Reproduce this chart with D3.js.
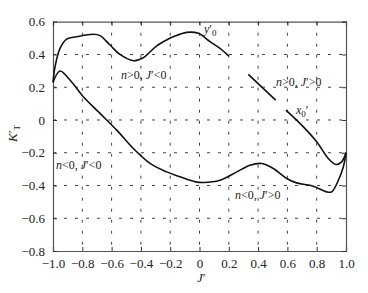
<!DOCTYPE html>
<html>
<head>
<meta charset="utf-8">
<script src="https://cdn.jsdelivr.net/npm/d3@7"></script>
<style>
  body { margin: 0; background: #fff; }
  svg text { font-family: "Liberation Serif", "Times New Roman", "DejaVu Serif", serif; fill: #222; }
</style>
</head>
<body>
<div id="chart"></div>
<script>
// tick values
var xTicks = [-1.0, -0.8, -0.6, -0.4, -0.2, 0, 0.2, 0.4, 0.6, 0.8, 1.0];
var yTicks = [-0.8, -0.6, -0.4, -0.2, 0, 0.2, 0.4, 0.6];

// n>0, J'<0 branch (upper curve)
var upperJ = [-1.0, -0.985, -0.952, -0.907, -0.838, -0.725, -0.679, -0.611, -0.543, -0.452, -0.384, -0.292, -0.213, -0.179, -0.087, -0.008, 0.072, 0.140, 0.2];
var upperK = [0.23, 0.33, 0.437, 0.494, 0.508, 0.523, 0.515, 0.458, 0.40, 0.362, 0.38, 0.453, 0.494, 0.508, 0.535, 0.529, 0.478, 0.437, 0.39];

// n>0, J'>0 segment
var midJ = [0.333, 0.52];
var midK = [0.278, 0.121];

// x0' branch
var rightJ = [0.59, 0.709, 0.80, 0.879, 0.932, 0.970, 1.0];
var rightK = [0.06, -0.042, -0.133, -0.235, -0.272, -0.256, -0.20];

// n<0 branch (lower curve)
var lowerJ = [-1.0, -0.952, -0.884, -0.793, -0.679, -0.565, -0.452, -0.338, -0.224, -0.133, -0.026, 0.026, 0.140, 0.254, 0.345, 0.425, 0.504, 0.595, 0.663, 0.777, 0.868, 0.902, 0.948, 0.982, 1.0];
var lowerK = [0.23, 0.299, 0.244, 0.142, 0.04, -0.062, -0.174, -0.265, -0.317, -0.347, -0.378, -0.382, -0.368, -0.317, -0.276, -0.266, -0.296, -0.357, -0.384, -0.404, -0.439, -0.439, -0.368, -0.286, -0.20];

var W = 368, H = 293;
var pLeft = 53, pRight = 346, pTop = 21.7, pBottom = 251;

var svg = d3.select('#chart').append('svg')
  .attr('width', W)
  .attr('height', H);

var x = d3.scaleLinear().domain([-1, 1]).range([pLeft, pRight]);
var y = d3.scaleLinear().domain([-0.8, 0.6]).range([pBottom, pTop]);

// grid
svg.append('g').selectAll('line')
  .data(yTicks.slice(1, -1))
  .enter().append('line')
  .attr('x1', pLeft).attr('x2', pRight)
  .attr('y1', function(d) { return y(d); })
  .attr('y2', function(d) { return y(d); })
  .attr('stroke', '#444')
  .attr('stroke-width', 1)
  .attr('stroke-dasharray', '3,8');

svg.append('g').selectAll('line')
  .data(xTicks.slice(1, -1))
  .enter().append('line')
  .attr('y1', pTop).attr('y2', pBottom)
  .attr('x1', function(d) { return x(d); })
  .attr('x2', function(d) { return x(d); })
  .attr('stroke', '#444')
  .attr('stroke-width', 1)
  .attr('stroke-dasharray', '3,8');

// axes, ticks inside
var fmt = function(d) { return d === 0 ? '0' : d3.format('.1f')(d).replace('-', '\u2212'); };

svg.append('g')
  .attr('transform', 'translate(0,' + pBottom + ')')
  .call(d3.axisBottom(x).tickValues(xTicks).tickSize(-4).tickPadding(8).tickFormat(fmt));
svg.append('g')
  .attr('transform', 'translate(' + pLeft + ',0)')
  .call(d3.axisLeft(y).tickValues(yTicks).tickSize(-4).tickPadding(8).tickFormat(fmt));
svg.append('g')
  .attr('transform', 'translate(0,' + pTop + ')')
  .call(d3.axisTop(x).tickValues(xTicks).tickSize(-4).tickFormat(''));
svg.append('g')
  .attr('transform', 'translate(' + pRight + ',0)')
  .call(d3.axisRight(y).tickValues(yTicks).tickSize(-4).tickFormat(''));

svg.selectAll('.domain').attr('stroke', '#555').attr('stroke-width', 1.2);
svg.selectAll('.tick line').attr('stroke', '#333');
svg.selectAll('.tick text').style('font-size', '13px').style('fill', '#222')
  .style('font-family', '"Liberation Serif", "Times New Roman", serif');

// curves
var line = d3.line()
  .x(function(d) { return x(d[0]); })
  .y(function(d) { return y(d[1]); })
  .curve(d3.curveCatmullRom.alpha(0.5));

var series = [
  d3.zip(upperJ, upperK),
  d3.zip(midJ, midK),
  d3.zip(rightJ, rightK),
  d3.zip(lowerJ, lowerK)
];

svg.append('g').selectAll('path')
  .data(series)
  .enter().append('path')
  .attr('d', line)
  .attr('fill', 'none')
  .attr('stroke', '#111')
  .attr('stroke-width', 1.6);

// labels
function label(px, py, parts) {
  var t = svg.append('text')
    .attr('x', px).attr('y', py)
    .style('font-size', '12px');
  parts.forEach(function(p) {
    var s = t.append('tspan').text(p.t);
    if (p.i) s.style('font-style', 'italic');
    if (p.sub) s.attr('dy', 3).style('font-size', '9px');
    if (p.up) s.attr('dy', -3);
  });
  return t;
}

label(121, 79, [{t: 'n', i: 1}, {t: '>0, '}, {t: 'J', i: 1}, {t: '\u2032<0'}]);
label(276, 86, [{t: 'n', i: 1}, {t: '>0, '}, {t: 'J', i: 1}, {t: '\u2032>0'}]);
label(56, 169, [{t: 'n', i: 1}, {t: '<0, '}, {t: 'J', i: 1}, {t: '\u2032<0'}]);
label(235, 199, [{t: 'n', i: 1}, {t: '<0, '}, {t: 'J', i: 1}, {t: '\u2032>0'}]);
label(204, 33, [{t: 'y', i: 1}, {t: '\u2032'}, {t: '0', sub: 1}]);
label(296, 114, [{t: 'x', i: 1}, {t: '0', sub: 1}, {t: '\u2032', up: 1}]);

// axis titles
svg.append('text')
  .attr('x', 197).attr('y', 282)
  .style('font-size', '13px')
  .html('<tspan font-style="italic">J</tspan>\u2032');

svg.append('text')
  .attr('transform', 'translate(17,142) rotate(-90)')
  .style('font-size', '13px')
  .html('<tspan font-style="italic">K</tspan>\u2032<tspan dy="3" font-size="9">T</tspan>');
</script>
</body>
</html>
